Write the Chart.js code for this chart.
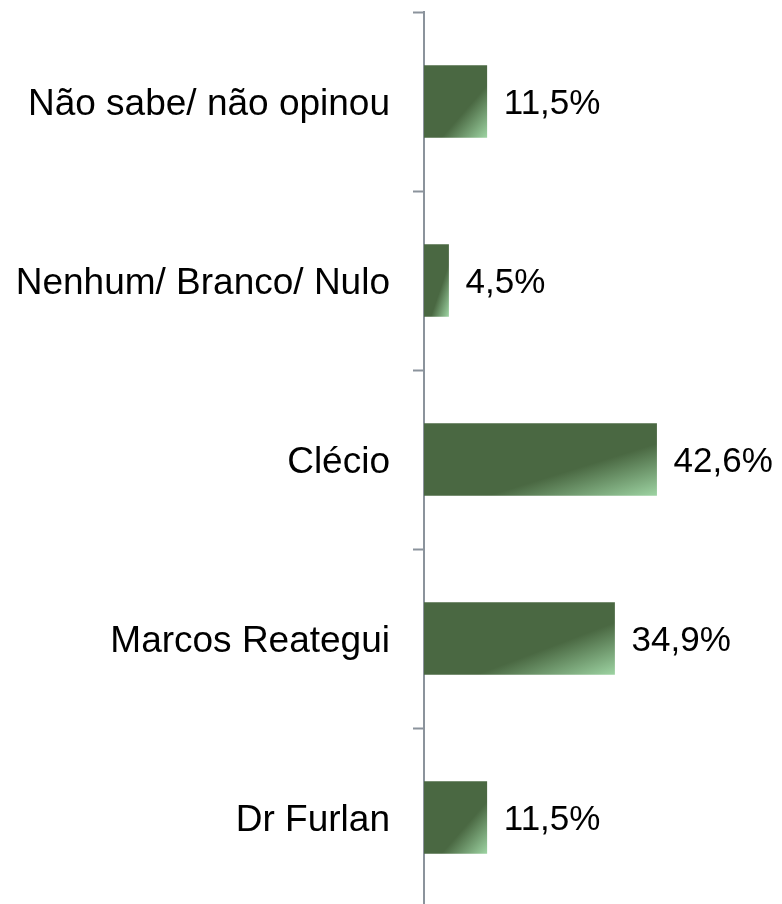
<!DOCTYPE html>
<html>
<head>
<meta charset="utf-8">
<script src="https://cdn.jsdelivr.net/npm/chart.js@4.4.1/dist/chart.umd.min.js"></script>
<style>
  html, body { margin: 0; padding: 0; background: #fff; overflow: hidden; }
  #wrap { width: 782px; height: 907px; position: relative; }
</style>
</head>
<body>
<div id="wrap"><canvas id="votesChart"></canvas></div>
<script>
// categories and values (percent)
const categories = ['Não sabe/ não opinou', 'Nenhum/ Branco/ Nulo', 'Clécio', 'Marcos Reategui', 'Dr Furlan'];
const values = [11.5, 4.5, 42.6, 34.9, 11.5];

const DARK = '#4a6842';
const LIGHT = '#9dd3a2';
const BAR_H = 72;
const FONT = 'Arial, "Liberation Sans", sans-serif';

// PowerPoint-like diagonal gradient, scaled to each bar
function barFill(context) {
  const chart = context.chart;
  const { scales } = chart;
  if (!chart.chartArea || !scales.x || !scales.y || context.dataIndex == null) return DARK;
  const left = scales.x.getPixelForValue(0);
  const right = scales.x.getPixelForValue(values[context.dataIndex]);
  const yc = scales.y.getPixelForValue(context.dataIndex);
  const top = yc - BAR_H / 2;
  const w = Math.max(right - left, 1), h = BAR_H;
  const k = 2 / (1 / (w * w) + 1 / (h * h));
  const g = chart.ctx.createLinearGradient(left, top, left + k / w, top + k / h);
  g.addColorStop(0, DARK);
  g.addColorStop(0.64, DARK);
  g.addColorStop(1, LIGHT);
  return g;
}

const valueLabels = {
  id: 'valueLabels',
  afterDatasetsDraw(chart) {
    const ctx = chart.ctx;
    const meta = chart.getDatasetMeta(0);
    ctx.save();
    ctx.font = '35px ' + FONT;
    ctx.fillStyle = '#000';
    ctx.textAlign = 'left';
    ctx.textBaseline = 'middle';
    meta.data.forEach((bar, i) => {
      ctx.fillText(values[i].toFixed(1).replace('.', ',') + '%', bar.x + 17, bar.y + 3);
    });
    ctx.restore();
  }
};

new Chart(document.getElementById('votesChart'), {
  type: 'bar',
  data: {
    labels: categories,
    datasets: [{
      data: values,
      backgroundColor: barFill,
      borderWidth: 0,
      barThickness: BAR_H,
    }],
  },
  options: {
    indexAxis: 'y',
    responsive: true,
    maintainAspectRatio: false,
    animation: false,
    layout: { padding: { top: 12, right: 85, left: 0, bottom: 0 } },
    plugins: {
      legend: { display: false },
      tooltip: { enabled: false },
    },
    scales: {
      x: { display: false, min: 0, max: 50 },
      y: {
        afterFit(scale) {
          scale.width = 424;
          scale.paddingTop = 0;
          scale.paddingBottom = 0;
        },
        grid: {
          drawOnChartArea: false,
          drawTicks: true,
          tickLength: 11,
          tickWidth: 2,
          color: '#8b939c',
          offset: true,
        },
        border: { display: true, color: '#8b939c', width: 2 },
        ticks: {
          color: '#000',
          padding: 23,
          labelOffset: 3,
          autoSkip: false,
          font: { family: FONT, size: 37 },
        },
      },
    },
  },
  plugins: [valueLabels],
});
</script>
</body>
</html>
